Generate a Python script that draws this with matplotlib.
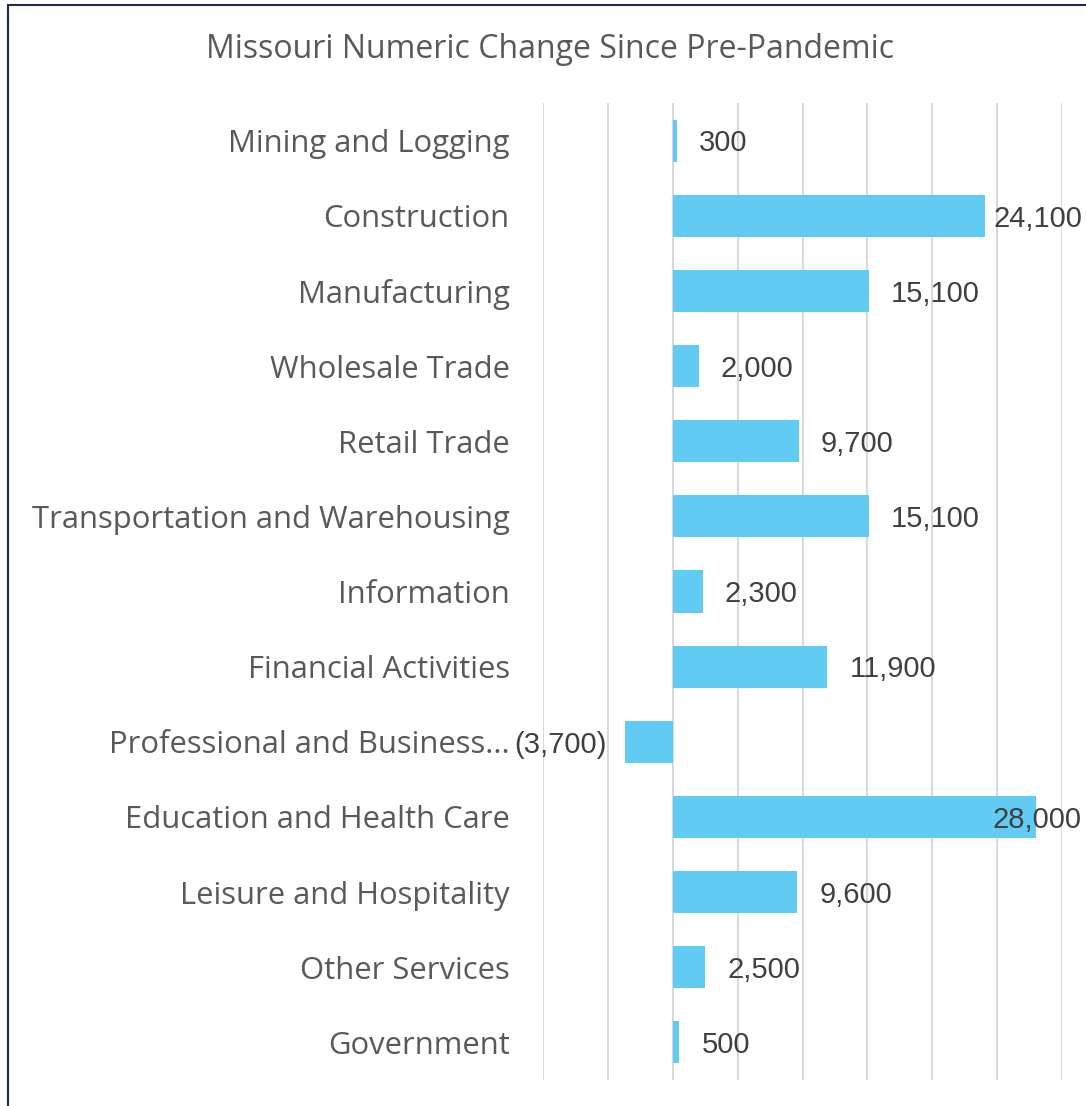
import matplotlib.pyplot as plt
from matplotlib.patches import Rectangle

# Data
categories = ['Mining and Logging', 'Construction', 'Manufacturing', 'Wholesale Trade',
              'Retail Trade', 'Transportation and Warehousing', 'Information',
              'Financial Activities', 'Professional and Business...', 'Education and Health Care',
              'Leisure and Hospitality', 'Other Services', 'Government']
values = [300, 24100, 15100, 2000, 9700, 15100, 2300, 11900, -3700, 28000, 9600, 2500, 500]
grid_ticks = list(range(-10000, 30001, 5000))

bar_color = '#61CBF3'
text_color = '#595959'
label_color = '#404040'

fig = plt.figure(figsize=(10.86, 11.06), dpi=100)
ax = fig.add_axes([543 / 1086, 1 - 1080 / 1106, 519 / 1086, 977 / 1106])

y = list(range(len(categories)))
ax.barh(y, values, height=0.56, color=bar_color, zorder=2)

ax.set_xlim(-10000, 30000)
ax.set_ylim(len(categories) - 0.5, -0.5)
ax.set_xticks(grid_ticks)
ax.set_xticklabels([])
ax.set_yticks(y)
ax.set_yticklabels(categories, fontsize=22.3, color=text_color, family='Open Sans')
ax.tick_params(axis='both', length=0)
ax.tick_params(axis='y', pad=24)
ax.grid(axis='x', color='#D9D9D9', linewidth=1.5, zorder=0)
for s in ax.spines.values():
    s.set_visible(False)

fig.text(550 / 1086, 1 - 49 / 1106, 'Missouri Numeric Change Since Pre-Pandemic',
         ha='center', va='center', fontsize=23, color=text_color, family='Open Sans')

# Value labels, kept inside the right edge of the image
fig.canvas.draw()
renderer = fig.canvas.get_renderer()
right_limit = 1082
for yi, v in zip(y, values):
    label = f'{v:,}' if v >= 0 else f'({abs(v):,})'
    if v >= 0:
        t = ax.annotate(label, xy=(v, yi), xytext=(16, -2), textcoords='offset points',
                        ha='left', va='center', fontsize=21, color=label_color,
                        family='Liberation Sans', zorder=3)
        bb = t.get_window_extent(renderer)
        if bb.x1 > right_limit:
            t.set_position((16 - (bb.x1 - right_limit) * 0.72, -2))
    else:
        ax.annotate(label, xy=(v, yi), xytext=(-13, -2), textcoords='offset points',
                    ha='right', va='center', fontsize=21, color=label_color,
                    family='Liberation Sans', zorder=3, annotation_clip=False)

# Chart border (cropped on the right and bottom)
fig.add_artist(Rectangle((8 / 1086, -0.2), 1.5, 1.2 - 5 / 1106, transform=fig.transFigure,
                         fill=False, edgecolor='#1F2A44', linewidth=1.5))

fig.savefig('out.png', dpi=100)
